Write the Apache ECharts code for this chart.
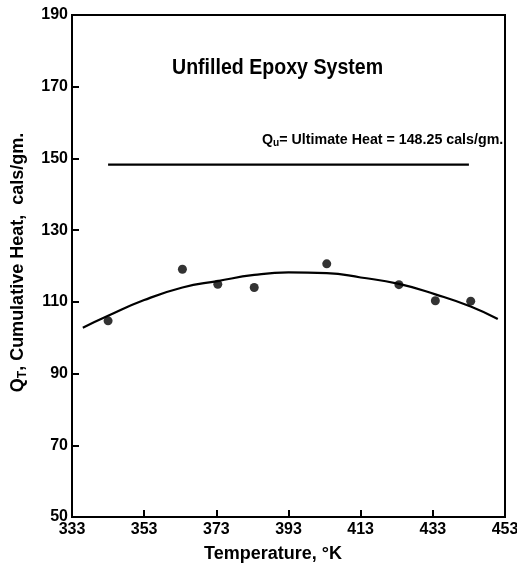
<!DOCTYPE html>
<html>
<head>
<meta charset="utf-8">
<script src="https://cdn.jsdelivr.net/npm/echarts@6/dist/echarts.min.js"></script>
<style>html,body{margin:0;padding:0;background:#fff}#c{width:517px;height:568px}</style>
</head>
<body>
<div id="c"></div>
<script>
// Measured points
const tempPoints = [343, 363.6, 373.4, 383.5, 403.6, 423.6, 433.7, 443.5];
const heatPoints = [104.7, 119.1, 114.9, 114.0, 120.6, 114.8, 110.3, 110.2];
// Fitted curve
const curveTemp = [336, 343, 353, 363.6, 373.4, 383.5, 393, 403.6, 413, 423.6, 433.7, 443.5, 451];
const curveHeat = [102.8, 106.1, 110.5, 114.0, 115.8, 117.5, 118.2, 118.0, 116.8, 115.0, 112.1, 108.7, 105.2];
// Ultimate heat line
const ultTemp = [343, 443];
const ultHeat = [148.25, 148.25];
const xTicks = [333, 353, 373, 393, 413, 433, 453];
const yTicks = [50, 70, 90, 110, 130, 150, 170, 190];

const FONT = '"Liberation Sans", Arial, sans-serif';
const chart = echarts.init(document.getElementById('c'), null, {renderer: 'canvas'});
chart.setOption({
  animation: false,
  backgroundColor: '#fff',
  grid: {left: 72, right: 12, top: 15, bottom: 51, containLabel: false, outerBoundsMode: 'none',
         show: true, borderColor: '#000', borderWidth: 2},
  xAxis: {
    type: 'value', min: xTicks[0], max: xTicks[xTicks.length - 1], interval: 20,
    axisLine: {show: true, lineStyle: {color: '#000', width: 2}},
    axisTick: {show: true, inside: true, length: 7, lineStyle: {color: '#000', width: 2}},
    axisLabel: {color: '#000', fontFamily: FONT, fontWeight: 'bold', fontSize: 16, margin: 5},
    splitLine: {show: false},
    name: 'Temperature, °K', nameLocation: 'middle', nameGap: 28,
    nameTextStyle: {color: '#000', fontFamily: FONT, fontWeight: 'bold', fontSize: 18, padding: [0, 31, 0, 0]}
  },
  yAxis: {
    type: 'value', min: yTicks[0], max: yTicks[yTicks.length - 1], interval: 20,
    axisLine: {show: true, lineStyle: {color: '#000', width: 2}},
    axisTick: {show: true, inside: true, length: 7, lineStyle: {color: '#000', width: 2}},
    axisLabel: {color: '#000', fontFamily: FONT, fontWeight: 'bold', fontSize: 16, margin: 4},
    splitLine: {show: false},
    name: '{m|Q}{s|T}{m|, Cumulative Heat,  cals/gm.}', nameLocation: 'middle', nameGap: 43, nameRotate: 90,
    nameTextStyle: {color: '#000', fontFamily: FONT, fontWeight: 'bold', fontSize: 18, padding: [0, 0, 0, 7],
      rich: {
        m: {fontFamily: FONT, fontWeight: 'bold', fontSize: 18, color: '#000'},
        s: {fontFamily: FONT, fontWeight: 'bold', fontSize: 12, color: '#000', verticalAlign: 'bottom', padding: [9, 0, 0, 0]}
      }}
  },
  graphic: [
    {type: 'text', x: 172, y: 68, scaleX: 0.89,
     style: {text: 'Unfilled Epoxy System', fill: '#000', font: 'bold 22px ' + FONT, verticalAlign: 'middle'}},
    {type: 'text', x: 262, y: 140, scaleX: 1.017,
     style: {
       text: '{m|Q}{s|u}{m|= Ultimate Heat = 148.25 cals/gm.}', verticalAlign: 'middle',
       rich: {
         m: {fill: '#000', font: 'bold 14px ' + FONT},
         s: {fill: '#000', font: 'bold 10px ' + FONT, padding: [7, 0, 0, 0]}
       }
     }}
  ],
  series: [
    {type: 'line', data: curveTemp.map((t, i) => [t, curveHeat[i]]), smooth: 0.5,
     showSymbol: false, symbol: 'none', lineStyle: {color: '#000', width: 2.2}, z: 2},
    {type: 'line', data: ultTemp.map((t, i) => [t, ultHeat[i]]),
     showSymbol: false, symbol: 'none', lineStyle: {color: '#000', width: 2.2}, z: 2},
    {type: 'scatter', data: tempPoints.map((t, i) => [t, heatPoints[i]]),
     symbol: 'circle', symbolSize: 9, itemStyle: {color: '#000'}, z: 3}
  ]
});
</script>
</body>
</html>
